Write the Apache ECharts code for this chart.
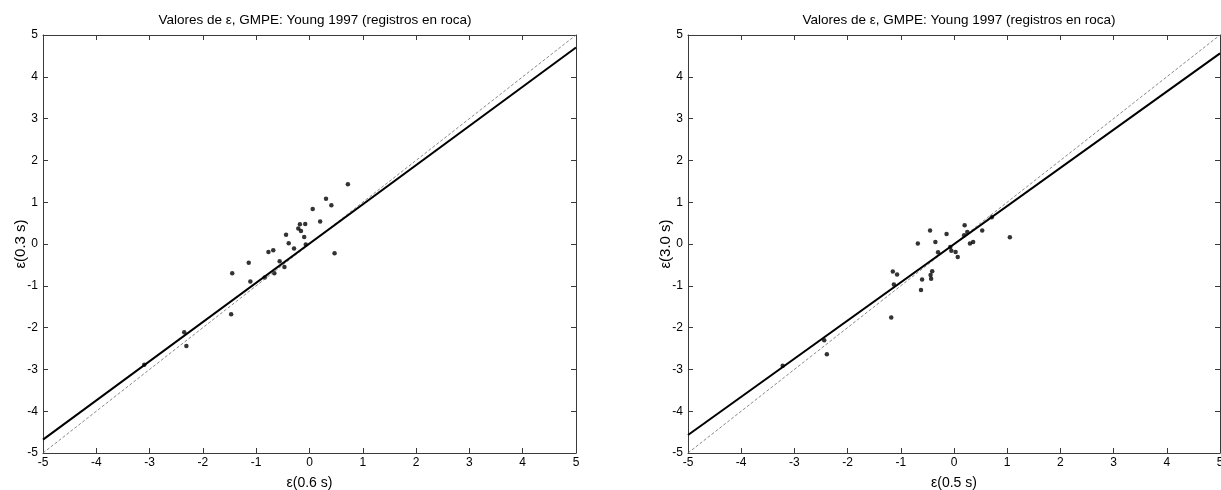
<!DOCTYPE html>
<html>
<head>
<meta charset="utf-8">
<script src="https://cdn.jsdelivr.net/npm/echarts@6/dist/echarts.min.js"></script>
<style>
  html, body { margin: 0; padding: 0; background: #ffffff; }
  #chart { width: 1221px; height: 490px; }
</style>
</head>
<body>
<div id="chart"></div>
<script>
// Residual epsilon comparison, Young 1997 GMPE, rock records
const titleText = 'Valores de ε, GMPE: Young 1997 (registros en roca)';
const axisMin = -5;
const axisMax = 5;
const tickStep = 1;

const leftXName = 'ε(0.6 s)';
const leftYName = 'ε(0.3 s)';
const rightXName = 'ε(0.5 s)';
const rightYName = 'ε(3.0 s)';

// [ε(0.6 s), ε(0.3 s)]
const leftPoints = [
  [0.72, 1.43], [0.31, 1.08], [0.41, 0.93], [0.06, 0.84], [0.20, 0.54],
  [-0.18, 0.47], [-0.21, 0.37], [-0.16, 0.31], [-0.08, 0.48], [-0.44, 0.22],
  [-0.39, 0.02], [-0.10, 0.17], [-0.29, -0.11], [-0.07, -0.01], [-0.77, -0.19],
  [-0.68, -0.15], [0.47, -0.22], [-1.14, -0.45], [-0.56, -0.41], [-0.47, -0.55],
  [-0.66, -0.70], [-1.45, -0.70], [-1.11, -0.90], [-0.84, -0.80], [-1.47, -1.68],
  [-2.35, -2.11], [-2.31, -2.44], [-3.10, -2.89]
];
const leftFit = [[-5, -4.68], [5, 4.70]];

// [ε(0.5 s), ε(3.0 s)]
const rightPoints = [
  [1.05, 0.16], [0.71, 0.64], [0.53, 0.32], [0.20, 0.45], [0.25, 0.29],
  [0.19, 0.21], [0.36, 0.05], [0.30, 0.01], [-0.14, 0.24], [-0.45, 0.32],
  [-0.68, 0.01], [-0.35, 0.05], [-0.07, -0.07], [-0.05, -0.16], [0.03, -0.19],
  [0.07, -0.31], [-0.30, -0.20], [-1.15, -0.66], [-1.07, -0.73], [-0.41, -0.65],
  [-0.44, -0.74], [-0.43, -0.83], [-0.60, -0.85], [-1.13, -0.97], [-0.62, -1.10],
  [-1.18, -1.76], [-2.44, -2.30], [-2.39, -2.64], [-3.22, -2.91]
];
const rightFit = [[-5, -4.57], [5, 4.56]];

const identityLine = [[-5, -5], [5, 5]];

const FONT = "'Liberation Sans', Arial, sans-serif";
const AXIS_COLOR = '#3a3a3a';

const chart = echarts.init(document.getElementById('chart'), null, { renderer: 'canvas' });

const grids = [
  { left: 43, top: 35, width: 533, height: 418, outerBoundsMode: 'none' },
  { left: 688, top: 35, width: 532, height: 418, outerBoundsMode: 'none' }
];

function mainX(gridIndex, name) {
  return {
    type: 'value', gridIndex, position: 'bottom',
    min: axisMin, max: axisMax, interval: tickStep,
    name, nameLocation: 'middle', nameGap: 23, nameMoveOverlap: false,
    nameTextStyle: { fontFamily: FONT, fontSize: 14, color: '#000' },
    axisLine: { show: true, onZero: false, lineStyle: { color: AXIS_COLOR, width: 1 } },
    axisTick: { show: true, inside: true, length: 5, lineStyle: { color: AXIS_COLOR } },
    axisLabel: { show: true, margin: 4, fontFamily: FONT, fontSize: 12, color: '#000' },
    splitLine: { show: false }
  };
}
function mirrorX(gridIndex) {
  return {
    type: 'value', gridIndex, position: 'top',
    min: axisMin, max: axisMax, interval: tickStep,
    axisLine: { show: true, onZero: false, lineStyle: { color: AXIS_COLOR, width: 1 } },
    axisTick: { show: true, inside: true, length: 5, lineStyle: { color: AXIS_COLOR } },
    axisLabel: { show: false },
    splitLine: { show: false }
  };
}
function mainY(gridIndex, name) {
  return {
    type: 'value', gridIndex, position: 'left',
    min: axisMin, max: axisMax, interval: tickStep,
    name, nameLocation: 'middle', nameGap: 15, nameMoveOverlap: false,
    nameTextStyle: { fontFamily: FONT, fontSize: 15, color: '#000' },
    axisLine: { show: true, onZero: false, lineStyle: { color: AXIS_COLOR, width: 1 } },
    axisTick: { show: true, inside: true, length: 5, lineStyle: { color: AXIS_COLOR } },
    axisLabel: { show: true, margin: 5, fontFamily: FONT, fontSize: 12, color: '#000' },
    splitLine: { show: false }
  };
}
function mirrorY(gridIndex) {
  return {
    type: 'value', gridIndex, position: 'right',
    min: axisMin, max: axisMax, interval: tickStep,
    axisLine: { show: true, onZero: false, lineStyle: { color: AXIS_COLOR, width: 1 } },
    axisTick: { show: true, inside: true, length: 5, lineStyle: { color: AXIS_COLOR } },
    axisLabel: { show: false },
    splitLine: { show: false }
  };
}

function panelSeries(axisIndex, points, fit) {
  return [
    {
      type: 'line', xAxisIndex: axisIndex, yAxisIndex: axisIndex,
      data: identityLine, symbol: 'none', silent: true,
      lineStyle: { color: '#6a6a6a', width: 0.8, type: [3, 2] }
    },
    {
      type: 'line', xAxisIndex: axisIndex, yAxisIndex: axisIndex,
      data: fit, symbol: 'none', silent: true,
      lineStyle: { color: '#000', width: 2 }
    },
    {
      type: 'scatter', xAxisIndex: axisIndex, yAxisIndex: axisIndex,
      data: points, symbol: 'circle', symbolSize: 4.5,
      itemStyle: { color: '#000' }
    }
  ];
}

chart.setOption({
  animation: false,
  backgroundColor: '#ffffff',
  title: [
    { text: titleText, left: 310, top: 8, textAlign: 'center',
      textStyle: { fontFamily: FONT, fontSize: 13.5, fontWeight: 'normal', color: '#000' } },
    { text: titleText, left: 954, top: 8, textAlign: 'center',
      textStyle: { fontFamily: FONT, fontSize: 13.5, fontWeight: 'normal', color: '#000' } }
  ],
  grid: grids,
  xAxis: [mainX(0, leftXName), mainX(1, rightXName), mirrorX(0), mirrorX(1)],
  yAxis: [mainY(0, leftYName), mainY(1, rightYName), mirrorY(0), mirrorY(1)],
  series: [...panelSeries(0, leftPoints, leftFit), ...panelSeries(1, rightPoints, rightFit)]
});
</script>
</body>
</html>
